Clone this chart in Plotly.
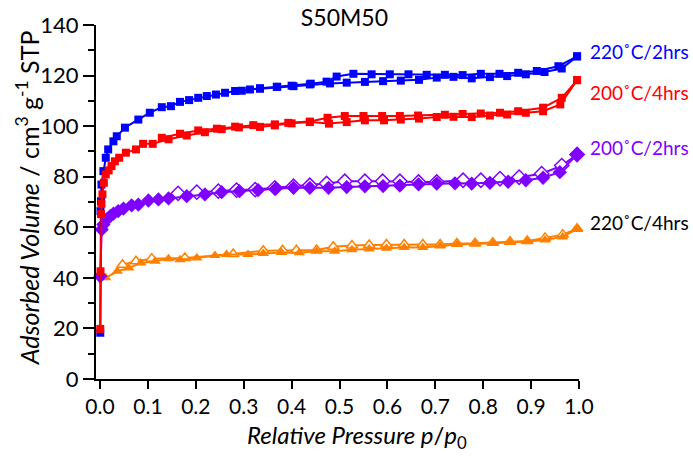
import plotly.graph_objects as go

# ---------------- data ----------------
blue_ads_p = [0.0005, 0.001, 0.002, 0.003, 0.007, 0.012, 0.017, 0.028, 0.035, 0.052, 0.080, 0.104,
              0.129, 0.148, 0.167, 0.186, 0.205, 0.223, 0.242, 0.261, 0.282, 0.313, 0.334, 0.369,
              0.404, 0.438, 0.480, 0.515, 0.553, 0.591, 0.628, 0.666, 0.703, 0.738, 0.776, 0.814,
              0.850, 0.889, 0.928, 0.964, 0.996]
blue_ads_v = [18.3, 66.4, 70.3, 76.9, 82.2, 87.5, 90.8, 94.0, 96.0, 99.4, 102.6, 105.3,
              107.5, 107.9, 109.6, 110.3, 111.2, 111.9, 112.5, 113.2, 113.9, 114.5, 114.8, 115.5,
              115.8, 116.5, 116.9, 117.2, 117.5, 117.8, 118.0, 118.3, 119.2, 119.5, 118.9, 119.4,
              119.8, 120.5, 121.4, 122.8, 127.6]
blue_des_p = [0.996, 0.957, 0.912, 0.873, 0.834, 0.795, 0.757, 0.720, 0.682, 0.644, 0.605, 0.567,
              0.529, 0.494, 0.473, 0.440, 0.400, 0.370, 0.334, 0.296]
blue_des_v = [127.6, 123.7, 121.8, 121.1, 120.7, 120.7, 120.2, 120.3, 120.3, 120.5, 120.5, 120.5,
              120.7, 119.6, 117.6, 116.8, 116.0, 115.6, 115.0, 114.0]

red_ads_p = [0.0005, 0.001, 0.002, 0.003, 0.005, 0.008, 0.012, 0.018, 0.024, 0.031, 0.040, 0.054,
             0.075, 0.090, 0.110, 0.143, 0.181, 0.219, 0.254, 0.290, 0.334, 0.365, 0.400, 0.438,
             0.478, 0.515, 0.553, 0.593, 0.628, 0.666, 0.703, 0.738, 0.776, 0.814, 0.850, 0.889,
             0.925, 0.961, 0.996]
red_ads_v = [19.8, 42.6, 65.2, 69.3, 73.0, 77.6, 80.9, 82.5, 84.2, 86.1, 87.5, 89.5,
             90.8, 93.0, 93.0, 94.8, 96.3, 97.6, 98.8, 99.5, 99.7, 100.3, 101.1, 101.6,
             101.0, 101.6, 102.3, 102.3, 102.6, 103.0, 103.6, 103.7, 103.6, 104.2, 104.6, 105.3,
             105.9, 108.6, 118.2]
red_des_p = [0.996, 0.964, 0.925, 0.873, 0.835, 0.795, 0.757, 0.720, 0.664, 0.626, 0.589, 0.550,
             0.511, 0.475, 0.438, 0.393, 0.365, 0.320, 0.282, 0.244, 0.205, 0.167, 0.129]
red_des_v = [118.2, 111.2, 107.3, 105.9, 105.3, 105.0, 104.8, 104.5, 104.2, 104.0, 104.0, 104.0,
             104.0, 103.3, 101.8, 101.3, 100.7, 100.4, 99.8, 99.0, 98.3, 97.0, 95.4]

purple_ads_p = [0.0005, 0.0035, 0.007, 0.014, 0.021, 0.028, 0.038, 0.049, 0.066, 0.080, 0.101, 0.122,
                0.143, 0.181, 0.219, 0.254, 0.291, 0.330, 0.367, 0.404, 0.438, 0.477, 0.515, 0.553,
                0.591, 0.626, 0.665, 0.703, 0.741, 0.776, 0.814, 0.852, 0.889, 0.925, 0.960, 0.996]
purple_ads_v = [40.6, 59.1, 61.1, 63.1, 64.4, 65.4, 66.4, 67.4, 68.7, 69.0, 70.6, 71.0,
                71.4, 72.3, 73.0, 73.9, 74.3, 74.7, 75.3, 75.6, 75.6, 75.6, 75.9, 76.2,
                76.3, 76.5, 77.0, 77.3, 77.4, 77.3, 77.6, 78.0, 78.6, 79.6, 81.8, 88.8]
purple_des_p = [0.996, 0.964, 0.922, 0.875, 0.835, 0.795, 0.758, 0.703, 0.665, 0.626, 0.590, 0.553,
                0.511, 0.473, 0.438, 0.404, 0.365, 0.324, 0.285, 0.247, 0.202, 0.163]
purple_des_v = [88.8, 84.4, 81.2, 79.8, 79.2, 78.6, 78.6, 77.9, 77.9, 78.2, 78.2, 78.2,
                78.2, 77.3, 76.6, 76.2, 75.6, 74.9, 74.7, 74.3, 73.9, 73.4]

orange_ads_p = [0.0005, 0.012, 0.036, 0.060, 0.085, 0.115, 0.143, 0.167, 0.202, 0.240, 0.264, 0.309,
                0.341, 0.379, 0.416, 0.452, 0.490, 0.526, 0.562, 0.598, 0.635, 0.674, 0.710, 0.745,
                0.783, 0.820, 0.856, 0.892, 0.929, 0.966, 0.996]
orange_ads_v = [41.3, 40.0, 42.6, 43.9, 45.9, 46.6, 47.6, 47.2, 47.9, 48.8, 49.2, 49.2,
                49.6, 50.0, 49.9, 50.5, 50.5, 51.1, 51.4, 51.7, 52.0, 52.0, 52.6, 53.2,
                53.4, 53.6, 54.0, 54.4, 55.0, 56.2, 59.4]
orange_des_p = [0.996, 0.966, 0.929, 0.892, 0.856, 0.820, 0.783, 0.745, 0.710, 0.674, 0.635, 0.598,
                0.562, 0.526, 0.487, 0.452, 0.410, 0.381, 0.341, 0.278, 0.177, 0.108, 0.075, 0.047]
orange_des_v = [59.4, 57.1, 55.8, 54.6, 54.3, 53.9, 53.7, 53.6, 53.2, 53.2, 53.2, 53.2,
                53.0, 52.8, 52.3, 51.0, 50.9, 50.9, 50.7, 49.4, 47.9, 47.6, 46.6, 45.2]

labels = ["220˚C/2hrs", "200˚C/4hrs", "200˚C/2hrs", "220˚C/4hrs"]
label_y = [129.6, 113.3, 91.6, 61.9]
label_colors = ["#0000FF", "#FF0000", "#8000FF", "#000000"]

x_ticks = [0.0, 0.1, 0.2, 0.3, 0.4, 0.5, 0.6, 0.7, 0.8, 0.9, 1.0]
y_ticks = [0, 20, 40, 60, 80, 100, 120, 140]

# ---------------- figure ----------------
FONT = "Lato"
fig = go.Figure()

def add(p, v, color, symbol, size, open_=False):
    fig.add_trace(go.Scatter(
        x=p, y=v, mode="lines+markers",
        line=dict(color=color, width=2),
        marker=dict(symbol=symbol, size=size,
                    color="white" if open_ else color,
                    line=dict(color=color, width=1.5 if open_ else 0)),
        showlegend=False, hoverinfo="skip", cliponaxis=False))

ORANGE = "#FF8000"
PURPLE = "#8000FF"
RED = "#FF0000"
BLUE = "#0000FF"

add(orange_des_p, orange_des_v, ORANGE, "triangle-up", 10, True)
add(orange_ads_p, orange_ads_v, ORANGE, "triangle-up", 10)
add(purple_des_p, purple_des_v, PURPLE, "diamond", 11, True)
add(purple_ads_p, purple_ads_v, PURPLE, "diamond", 11)
add(blue_des_p, blue_des_v, BLUE, "square", 8)
add(blue_ads_p, blue_ads_v, BLUE, "square", 8)
add(red_des_p, red_des_v, RED, "square", 8)
add(red_ads_p, red_ads_v, RED, "square", 8)

Y0, Y1 = 0, 140
for t, yv, c in zip(labels, label_y, label_colors):
    fig.add_annotation(x=1.0186, y=(yv - Y0) / (Y1 - Y0), xref="paper", yref="paper",
                       text=t, showarrow=False, xanchor="left", yanchor="middle",
                       font=dict(family=FONT, size=19, color=c))

# axis titles as annotations for exact placement
fig.add_annotation(x=0.54, y=-0.162, xref="paper", yref="paper", showarrow=False,
                   xanchor="center", yanchor="middle",
                   text="<i>Relative Pressure p</i>/<i>p</i><sub>0</sub>",
                   font=dict(family=FONT, size=24, color="black"))
fig.add_annotation(x=-0.141, y=0.513, xref="paper", yref="paper", showarrow=False,
                   xanchor="center", yanchor="middle", textangle=-90,
                   text="<i>Adsorbed Volume</i> / cm<sup>3</sup> g<sup>-1</sup> STP",
                   font=dict(family=FONT, size=25, color="black"))

fig.update_layout(
    width=693, height=461,
    margin=dict(l=96, r=114, t=25, b=82),
    paper_bgcolor="white", plot_bgcolor="white",
    font=dict(family=FONT, size=21, color="black"),
    title=dict(text="S50M50", x=0.497, xanchor="center", y=0.962, yanchor="middle",
               yref="container", font=dict(family=FONT, size=23, color="black")),
    xaxis=dict(range=[-0.0084, 1.0], showgrid=False, zeroline=False,
               showline=True, linecolor="black", linewidth=2,
               ticks="outside", ticklen=8, tickwidth=1.5, tickcolor="black",
               tickvals=x_ticks, ticktext=[f"{v:.1f}" for v in x_ticks],
               tickfont=dict(family=FONT, size=21)),
    yaxis=dict(range=[Y0, Y1], showgrid=False, zeroline=False,
               showline=True, linecolor="black", linewidth=2,
               ticks="outside", ticklen=11, tickwidth=1.5, tickcolor="black",
               tickvals=y_ticks,
               minor=dict(dtick=10, ticks="outside", ticklen=6, tickwidth=1.5, tickcolor="black"),
               tickfont=dict(family=FONT, size=22)),
)

fig.write_html("out.html")
